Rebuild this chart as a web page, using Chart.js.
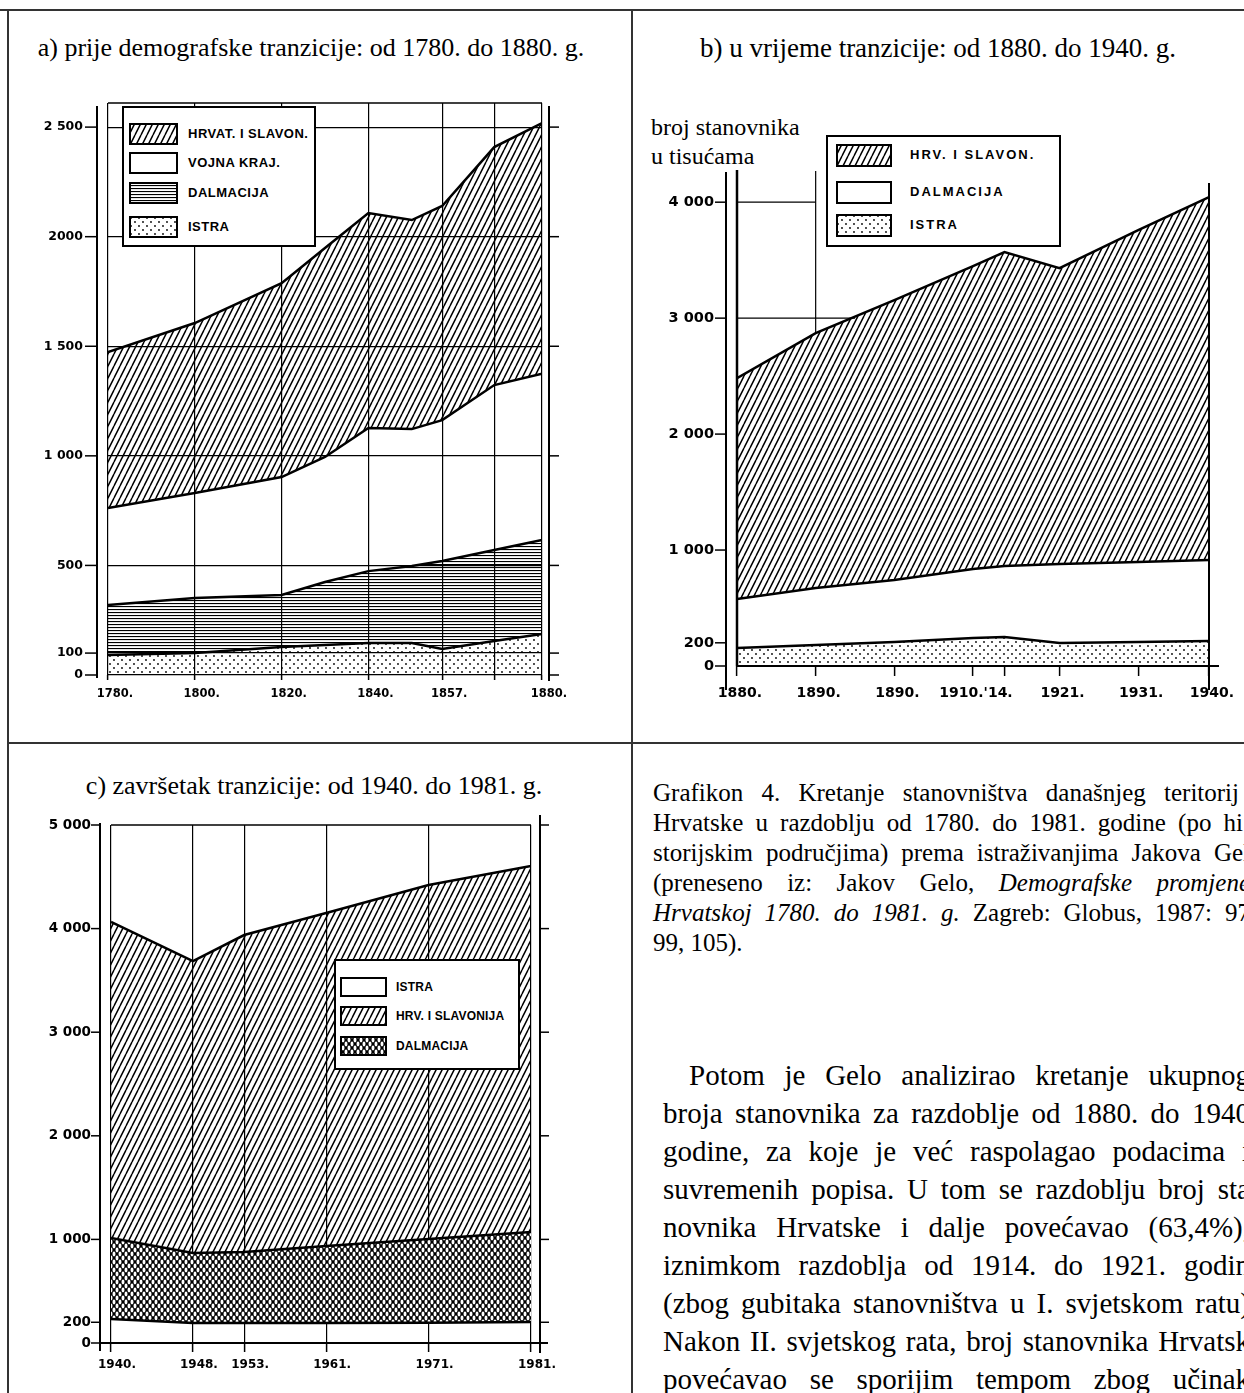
<!DOCTYPE html>
<html lang="hr">
<head>
<meta charset="utf-8">
<title>Grafikon 4</title>
<script src="https://cdn.jsdelivr.net/npm/chart.js@4.4.1/dist/chart.umd.min.js"></script>
<style>
  body { margin:0; width:1244px; height:1393px; overflow:hidden; position:relative; background:#fff; color:#000;
         font-family:'Liberation Serif','Times New Roman',serif; }
  .rule { position:absolute; background:#333; }
  canvas.chart { position:absolute; }
  .title { position:absolute; text-align:center; font-size:26px; line-height:30px; white-space:nowrap; }
  .legend { position:absolute; background:#fff; border:2px solid #000; box-sizing:border-box; }
  .legend canvas { position:absolute; }
  .legend span { position:absolute; font-family:'Liberation Sans',Arial,sans-serif; font-weight:bold; white-space:nowrap; }
  .txt { position:absolute; white-space:nowrap; }
  .txt div { text-align:justify; text-align-last:justify; }
</style>
</head>
<body>
<div class="rule" style="left:0;top:9px;width:1244px;height:2px"></div>
<div class="rule" style="left:7px;top:9px;width:2px;height:1384px"></div>
<div class="rule" style="left:631px;top:9px;width:2px;height:1384px"></div>
<div class="rule" style="left:7px;top:742px;width:1237px;height:2px"></div>

<div class="title" style="left:0;top:33px;width:622px">a) prije demografske tranzicije: od 1780. do 1880. g.</div>
<div class="title" style="left:632px;top:33px;width:612px;font-size:27px">b) u vrijeme tranzicije: od 1880. do 1940. g.</div>
<div class="title" style="left:2px;top:771px;width:624px">c) završetak tranzicije: od 1940. do 1981. g.</div>
<div class="title" style="left:651px;top:113px;text-align:left;font-size:24px;line-height:29px">broj stanovnika<br>u tisućama</div>

<canvas class="chart" id="chartA" width="600" height="630" style="left:0;top:90px"></canvas>
<canvas class="chart" id="chartB" width="614" height="560" style="left:630px;top:160px"></canvas>
<canvas class="chart" id="chartC" width="620" height="600" style="left:0;top:790px"></canvas>

<div class="txt" style="left:653px;top:778px;font-size:25px;line-height:30px">
  <div style="width:586px">Grafikon 4. Kretanje stanovništva današnjeg teritorij</div>
  <div style="width:590px">Hrvatske u razdoblju od 1780. do 1981. godine (po hi</div>
  <div style="width:597px">storijskim područjima) prema istraživanjima Jakova Gel</div>
  <div style="width:597px">(preneseno iz: Jakov Gelo, <i>Demografske promjene</i></div>
  <div style="width:597px"><i>Hrvatskoj 1780. do 1981. g.</i> Zagreb: Globus, 1987: 97</div>
  <div style="text-align-last:left">99, 105).</div>
</div>

<div class="txt" style="left:663px;top:1056px;font-size:29px;line-height:38px">
  <div style="width:561px;margin-left:26px">Potom je Gelo analizirao kretanje ukupnog</div>
  <div style="width:587px">broja stanovnika za razdoblje od 1880. do 1940</div>
  <div style="width:587px">godine, za koje je već raspolagao podacima i</div>
  <div style="width:587px">suvremenih popisa. U tom se razdoblju broj sta</div>
  <div style="width:587px">novnika Hrvatske i dalje povećavao (63,4%),</div>
  <div style="width:587px">iznimkom razdoblja od 1914. do 1921. godin</div>
  <div style="width:587px">(zbog gubitaka stanovništva u I. svjetskom ratu)</div>
  <div style="width:587px">Nakon II. svjetskog rata, broj stanovnika Hrvatsk</div>
  <div style="width:587px">povećavao se sporijim tempom zbog učinak</div>
</div>

<script>
// a) 1780-1880, thousands of inhabitants per region (stacked bottom -> top)
const yearsA = [1780, 1800, 1820, 1830, 1840, 1850, 1857, 1869, 1880];
const istraA = [91, 100, 128, 137, 146, 146, 119, 155, 187];
const dalmacijaA = [228, 251, 237, 287, 328, 351, 401, 415, 429];
const vojnaA = [443, 479, 538, 571, 653, 625, 643, 753, 759];
const hrvatA = [711, 776, 885, 953, 981, 954, 977, 1086, 1143];
const xTicksA = [1780, 1800, 1820, 1840, 1857, 1869, 1880];
const xLabelsA = ['1780.', '1800.', '1820.', '1840.', '1857.', '', '1880.'];
const yTicksA = [0, 100, 500, 1000, 1500, 2000, 2500];
const yLabelsA = ['0', '100', '500', '1 000', '1 500', '2000', '2 500'];
const legendA = ['HRVAT. I SLAVON.', 'VOJNA KRAJ.', 'DALMACIJA', 'ISTRA'];

// b) 1880-1940
const yearsB = [1880, 1890, 1900, 1910, 1914, 1921, 1931, 1940];
const istraB = [155, 181, 207, 241, 250, 198, 207, 216];
const dalmacijaB = [423, 491, 534, 595, 612, 681, 690, 698];
const hrvB = [1905, 2199, 2414, 2612, 2707, 2552, 2862, 3129];
const xTicksB = [1880, 1890, 1900, 1910, 1914, 1921, 1931, 1940];
const xLabelsB = ['1880.', '1890.', '1890.', "1910.'14.", '', '1921.', '1931.', '1940.'];
const yTicksB = [0, 200, 1000, 2000, 3000, 4000];
const yLabelsB = ['0', '200', '1 000', '2 000', '3 000', '4 000'];
const legendB = ['HRV. I SLAVON.', 'DALMACIJA', 'ISTRA'];

// c) 1940-1981
const yearsC = [1940, 1948, 1953, 1961, 1971, 1981];
const istraC = [232, 193, 193, 193, 195, 203];
const dalmacijaC = [781, 676, 685, 743, 809, 868];
const hrvC = [3051, 2818, 3060, 3214, 3417, 3533];
const xLabelsC = ['1940.', '1948.', '1953.', '1961.', '1971.', '1981.'];
const yTicksC = [0, 200, 1000, 2000, 3000, 4000, 5000];
const yLabelsC = ['0', '200', '1 000', '2 000', '3 000', '4 000', '5 000'];
const legendC = ['ISTRA', 'HRV. I SLAVONIJA', 'DALMACIJA'];

// fill patterns (scanned-print look)
function tile(w, h, draw) {
  const c = document.createElement('canvas'); c.width = w; c.height = h;
  const g = c.getContext('2d'); draw(g, w, h);
  return g.createPattern(c, 'repeat');
}
const hatch = tile(6, 12, (g, w, h) => {
  g.strokeStyle = '#000'; g.lineWidth = 1.5; g.beginPath();
  for (let k = -1; k <= 1; k++) { g.moveTo(k * w, h); g.lineTo(k * w + w, 0); }
  g.stroke();
});
const stripes = tile(6, 3, (g, w) => { g.fillStyle = '#000'; g.fillRect(0, 0, w, 1.1); });
const dots = tile(8, 8, g => {
  g.fillStyle = '#000';
  [[2, 2], [6, 6]].forEach(p => { g.beginPath(); g.arc(p[0], p[1], 0.9, 0, Math.PI * 2); g.fill(); });
});
const net = tile(6, 8, (g, w, h) => {
  g.fillStyle = '#000'; g.fillRect(0, 0, w, h); g.fillStyle = '#fff';
  [[3, 4], [0, 0], [6, 0], [0, 8], [6, 8]].forEach(p => {
    g.beginPath(); g.ellipse(p[0], p[1], 1.5, 2.4, 0, 0, Math.PI * 2); g.fill();
  });
});
const blank = 'rgba(0,0,0,0)';

function framePlugin(draw) {
  return {
    id: 'frame',
    afterDraw(chart) {
      const { ctx, chartArea, scales } = chart;
      ctx.save(); ctx.strokeStyle = '#000';
      const line = (x1, y1, x2, y2, w) => { ctx.lineWidth = w; ctx.beginPath(); ctx.moveTo(x1, y1); ctx.lineTo(x2, y2); ctx.stroke(); };
      draw(line, chartArea, scales.x, scales.y);
      ctx.restore();
    }
  };
}

function buildChart(id, o) {
  const font = size => ({ family: 'DejaVu Sans', weight: 'bold', size });
  return new Chart(document.getElementById(id), {
    type: 'line',
    data: {
      datasets: o.series.map((s, i) => ({
        label: s.name,
        data: o.years.map((yr, k) => ({ x: yr, y: s.values[k] })),
        backgroundColor: s.fill,
        fill: i === 0 ? 'origin' : '-1',
        borderColor: '#000', borderWidth: 2.5, pointRadius: 0, tension: 0
      }))
    },
    options: {
      responsive: false, animation: false,
      layout: { padding: o.pad },
      plugins: { legend: { display: false }, tooltip: { enabled: false } },
      scales: {
        x: {
          type: 'linear', min: o.xTicks[0], max: o.xTicks[o.xTicks.length - 1],
          afterBuildTicks: s => { s.ticks = o.xTicks.map(v => ({ value: v })); },
          afterFit: s => { s.height = o.xHeight; },
          border: { display: false },
          grid: { color: '#000', lineWidth: 1.2, drawOnChartArea: o.xGrid, drawTicks: true, tickLength: o.tickLen, tickColor: '#000', tickWidth: 1.5 },
          ticks: { autoSkip: false, maxRotation: 0, padding: o.xPad, labelOffset: o.labelOffset, color: '#000', font: font(o.xFont), callback: (v, i) => o.xLabels[i] }
        },
        y: {
          stacked: true, min: 0, max: o.yMax,
          afterBuildTicks: s => { s.ticks = o.yTicks.map(v => ({ value: v })); },
          afterFit: s => { s.width = o.yWidth; },
          border: { display: false },
          // tick marks are drawn by the frame plugin on the detached axis line
          grid: { color: '#000', lineWidth: 1.2, drawOnChartArea: o.yGrid, drawTicks: true, tickLength: o.yGap, tickColor: blank },
          ticks: { padding: 3, color: '#000', font: font(o.yFont), callback: (v, i) => o.yLabels[i] }
        }
      }
    },
    plugins: [framePlugin(o.frame)]
  });
}

buildChart('chartA', {
  years: yearsA,
  series: [
    { name: 'ISTRA', values: istraA, fill: dots },
    { name: 'DALMACIJA', values: dalmacijaA, fill: stripes },
    { name: 'VOJNA KRAJ.', values: vojnaA, fill: blank },
    { name: 'HRVAT. I SLAVON.', values: hrvatA, fill: hatch }
  ],
  xTicks: xTicksA, xLabels: xLabelsA, yTicks: yTicksA, yLabels: yLabelsA,
  yMax: 2610, pad: { left: 0, right: 58, top: 13, bottom: 5 },
  yWidth: 108, xHeight: 40, tickLen: 5, xPad: 7, yGap: 22, labelOffset: 7, xFont: 11.5, yFont: 12.5,
  xGrid: true, yGrid: true,
  frame: (line, a, x, y) => {
    line(a.left, a.top, a.right, a.top, 1.5);
    const lx = a.left - 11, rx = a.right + 7;
    line(lx, a.top + 3, lx, a.bottom + 3, 2);
    line(rx, a.top + 3, rx, a.bottom + 6, 2);
    yTicksA.forEach(v => {
      const py = y.getPixelForValue(v);
      line(lx - 12, py, lx, py, 1.5);
      line(rx, py, rx + 10, py, 1.5);
    });
  }
});

buildChart('chartB', {
  years: yearsB,
  series: [
    { name: 'ISTRA', values: istraB, fill: dots },
    { name: 'DALMACIJA', values: dalmacijaB, fill: blank },
    { name: 'HRV. I SLAVON.', values: hrvB, fill: hatch }
  ],
  xTicks: xTicksB, xLabels: xLabelsB, yTicks: yTicksB, yLabels: yLabelsB,
  yMax: 4200, pad: { left: 0, right: 35, top: 19, bottom: 4 },
  yWidth: 107, xHeight: 50, tickLen: 10, xPad: 9, yGap: 20, labelOffset: 3, xFont: 14, yFont: 14.5,
  xGrid: false, yGrid: false,
  frame: (line, a, x, y) => {
    line(a.left, a.top - 9, a.left, a.bottom, 2.5);
    const lx = a.left - 11;
    line(lx, a.top - 7, lx, a.bottom + 24, 2);
    line(a.right, a.top + 4, a.right, a.bottom + 24, 2);
    line(a.left, a.bottom, a.right + 10, a.bottom, 2);
    yTicksB.forEach(v => { const py = y.getPixelForValue(v); line(lx - 11, py, lx, py, 1.5); });
    // leftover pieces of the grid in the upper left corner
    const gx = x.getPixelForValue(yearsB[1]);
    const top1890 = istraB[1] + dalmacijaB[1] + hrvB[1];
    line(gx, a.top - 8, gx, y.getPixelForValue(top1890), 1.2);
    line(a.left, y.getPixelForValue(4000), gx, y.getPixelForValue(4000), 1.2);
    line(a.left, y.getPixelForValue(3000), x.getPixelForValue(1895), y.getPixelForValue(3000), 1.2);
  }
});

buildChart('chartC', {
  years: yearsC,
  series: [
    { name: 'ISTRA', values: istraC, fill: blank },
    { name: 'DALMACIJA', values: dalmacijaC, fill: net },
    { name: 'HRV. I SLAVONIJA', values: hrvC, fill: hatch }
  ],
  xTicks: yearsC, xLabels: xLabelsC, yTicks: yTicksC, yLabels: yLabelsC,
  yMax: 5000, pad: { left: 0, right: 89, top: 35, bottom: 5 },
  yWidth: 111, xHeight: 42, tickLen: 9, xPad: 6, yGap: 17, labelOffset: 6, xFont: 12, yFont: 13.5,
  xGrid: true, yGrid: false,
  frame: (line, a, x, y) => {
    line(a.left, a.top, a.right, a.top, 1.5);
    const lx = a.left - 11, rx = a.right + 9;
    line(lx, a.top - 2, lx, a.bottom + 8, 2);
    line(rx, a.top - 10, rx, a.bottom + 10, 2);
    line(lx, a.bottom, rx + 8, a.bottom, 2);
    yTicksC.forEach(v => {
      const py = y.getPixelForValue(v);
      line(lx - 9, py, lx, py, 1.5);
      if (v > 0) line(rx, py, rx + 9, py, 1.5);
    });
  }
});

// legends
function legend(box, names, fills, sw, rows, textX, fontSize, spacing) {
  const d = document.createElement('div');
  d.className = 'legend';
  Object.assign(d.style, { left: box[0] + 'px', top: box[1] + 'px', width: box[2] + 'px', height: box[3] + 'px' });
  names.forEach((name, i) => {
    const c = document.createElement('canvas');
    c.width = sw[2]; c.height = sw[3];
    Object.assign(c.style, { left: sw[0] + 'px', top: (rows[i] - sw[3] / 2) + 'px' });
    const g = c.getContext('2d');
    if (fills[i] !== blank) { g.fillStyle = fills[i]; g.fillRect(0, 0, sw[2], sw[3]); }
    g.lineWidth = 2; g.strokeStyle = '#000'; g.strokeRect(1, 1, sw[2] - 2, sw[3] - 2);
    d.appendChild(c);
    const s = document.createElement('span');
    s.textContent = name;
    Object.assign(s.style, { left: textX + 'px', top: (rows[i] - fontSize * 0.6) + 'px', fontSize: fontSize + 'px', letterSpacing: spacing + 'px' });
    d.appendChild(s);
  });
  document.body.appendChild(d);
}
legend([122, 106, 194, 141], legendA, [hatch, blank, stripes, dots], [5, 0, 49, 22], [26, 55, 85, 119], 64, 13, 0.5);
legend([826, 135, 235, 112], legendB, [hatch, blank, dots], [8, 0, 56, 23], [18, 55, 88], 82, 13, 2);
legend([334, 959, 186, 111], legendC, [blank, hatch, net], [4, 0, 47, 20], [26, 55, 85], 60, 12, 0.2);
</script>
</body>
</html>
